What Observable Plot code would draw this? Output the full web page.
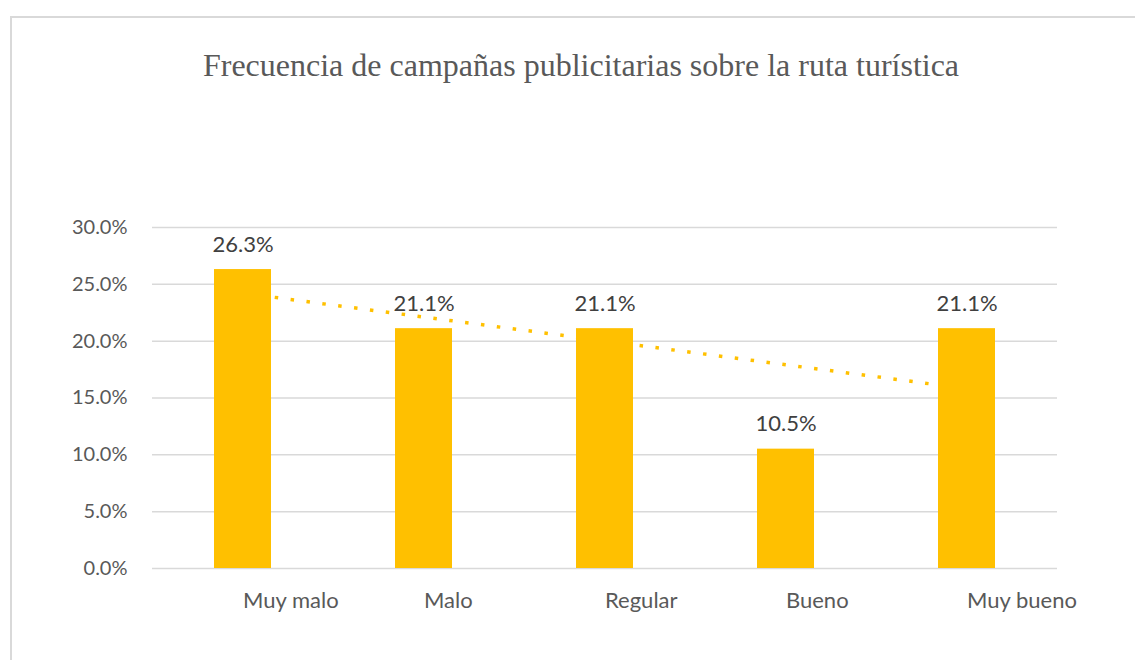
<!DOCTYPE html>
<html>
<head>
<meta charset="utf-8">
<script src="https://cdn.jsdelivr.net/npm/d3@7"></script>
<script src="https://cdn.jsdelivr.net/npm/@observablehq/plot@0.6"></script>
<style>
  html, body { margin: 0; padding: 0; background: #fff; width: 1135px; height: 660px; overflow: hidden; }
  #frame { position: absolute; left: 10px; top: 16px; width: 1140px; height: 660px; border: 2px solid #d9d9d9; box-sizing: border-box; }
  #title { position: absolute; left: 0; width: 1162px; top: 47px; text-align: center; font-family: "Liberation Serif", "Times New Roman", serif; font-size: 32px; color: #595959; white-space: nowrap; }
  #chart { position: absolute; left: 0; top: 0; }
</style>
</head>
<body>
<div id="frame"></div>
<div id="title">Frecuencia de campañas publicitarias sobre la ruta turística</div>
<div id="chart"></div>
<script>
const categories = ["Muy malo", "Malo", "Regular", "Bueno", "Muy bueno"];
const values = [26.3, 21.1, 21.1, 10.5, 21.1];
const yTicks = [0, 5, 10, 15, 20, 25, 30];

const data = categories.map((c, i) => ({cat: c, v: values[i], i}));

// linear trend line (least squares on category index)
const n = values.length;
const mx = d3.mean(data, d => d.i), my = d3.mean(values);
const slope = d3.sum(data, d => (d.i - mx) * (d.v - my)) / d3.sum(data, d => (d.i - mx) ** 2);
const trend = [0, n - 1].map(i => ({cat: categories[i], v: my + slope * (i - mx)}));

const font = "Lato, 'Open Sans', sans-serif";
const plot = Plot.plot({
  width: 1135,
  height: 660,
  marginLeft: 152,
  marginRight: 78,
  marginTop: 227,
  marginBottom: 92,
  style: {fontFamily: font, background: "transparent", overflow: "visible"},
  x: {type: "band", domain: categories, padding: 0, axis: null},
  y: {domain: [0, 30], axis: null},
  marks: [
    Plot.ruleY(yTicks, {stroke: "#d9d9d9", strokeWidth: 1.5}),
    Plot.text(yTicks, {x: null, y: d => d, text: d => d.toFixed(1) + "%", frameAnchor: "left", dx: -25, textAnchor: "end", lineAnchor: "middle", fontSize: 20, fill: "#595959"}),
    Plot.line(trend, {x: "cat", y: "v", stroke: "#FFC000", strokeWidth: 3.5, strokeDasharray: "3.5,12.5", strokeLinecap: "butt"}),
    Plot.barY(data, {x: "cat", y: "v", fill: "#FFC000", insetLeft: 62, insetRight: 62}),
    Plot.text(data, {x: "cat", y: "v", text: d => d.v.toFixed(1) + "%", dy: -25, lineAnchor: "middle", fontSize: 22, fill: "#404040"}),
    Plot.text(data, {x: "cat", y: 0, text: "cat", dy: 32, textAnchor: "start", lineAnchor: "middle", fontSize: 22, fill: "#595959"})
  ]
});
document.getElementById("chart").appendChild(plot);
</script>
</body>
</html>
